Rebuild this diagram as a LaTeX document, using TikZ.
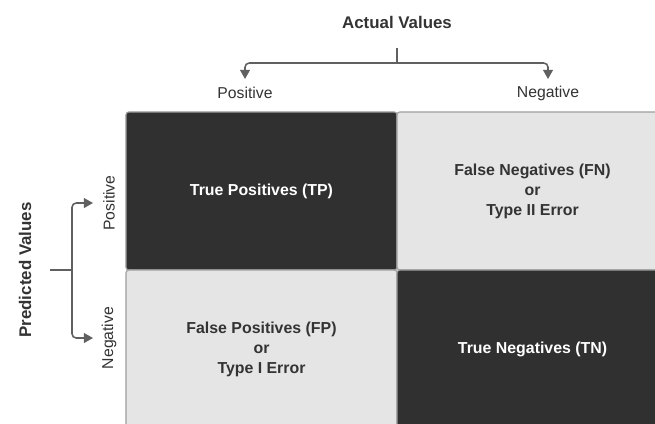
\documentclass[tikz,border=0pt]{standalone}
\usepackage{fontspec}
\setmainfont{Liberation Sans}
\usetikzlibrary{positioning,arrows.meta}
\definecolor{cellDark}{HTML}{303030}
\definecolor{cellLight}{HTML}{E5E5E5}
\definecolor{lineGray}{HTML}{606060}
\definecolor{textGray}{HTML}{333333}

\begin{document}
\begin{tikzpicture}[x=0.025cm,y=-0.025cm,node distance=6.775cm,on grid,
  cell/.style={draw=gray!75,line width=0.8pt,rounded corners=2pt,
    minimum width=6.775cm,minimum height=3.95cm,align=center,
    font=\fontsize{11.3pt}{14.2pt}\selectfont\bfseries},
  dark/.style={cell,fill=cellDark,text=white},
  light/.style={cell,fill=cellLight,text=textGray},
  title/.style={text=textGray,font=\fontsize{12pt}{14pt}\selectfont\bfseries},
  lbl/.style={text=textGray,font=\fontsize{11.2pt}{13pt}\selectfont},
  bracket/.style={draw=lineGray,line width=1.1pt,rounded corners=3pt},
  arr/.style={bracket,-{Triangle[width=7pt,length=6.5pt]}}]
   \useasboundingbox (0,0) rectangle (655,423);
   % matrix cells
   \node[dark] (tp) at (261.5,191) {True Positives (TP)};
   \node[light] (fn) [right=of tp] {False Negatives (FN)\\or\\Type II Error};
   \node[light] (fp) [below=3.95cm of tp] {False Positives (FP)\\or\\Type I Error};
   \node[dark] (tn) [right=of fp] {True Negatives (TN)};
   % actual values
   \node[title] (actual) at (397,22) {Actual Values};
   \node[lbl] (a_pos) at (245,93) {Positive};
   \node[lbl] (a_neg) at (548,93) {Negative};
   \coordinate (a_top) at (397,48);
   \coordinate (a_split) at (397,63);
   \coordinate (a_pos_tip) at (245,79);
   \coordinate (a_neg_tip) at (548,79);
   \draw[bracket] (a_top) -- (a_split);
   \draw[arr] (a_split) -| (a_pos_tip);
   \draw[arr] (a_split) -| (a_neg_tip);
   % predicted values
   \node[title,rotate=90] (pred) at (25,270) {Predicted Values};
   \node[lbl,rotate=90] (p_pos) at (109,203) {Positive};
   \node[lbl,rotate=90] (p_neg) at (109,338) {Negative};
   \coordinate (p_start) at (50,270);
   \coordinate (p_split) at (72,270);
   \coordinate (p_pos_tip) at (93,203);
   \coordinate (p_neg_tip) at (93,338);
   \draw[bracket] (p_start) -- (p_split);
   \draw[arr] (p_split) |- (p_pos_tip);
   \draw[arr] (p_split) |- (p_neg_tip);
\end{tikzpicture}
\end{document}
